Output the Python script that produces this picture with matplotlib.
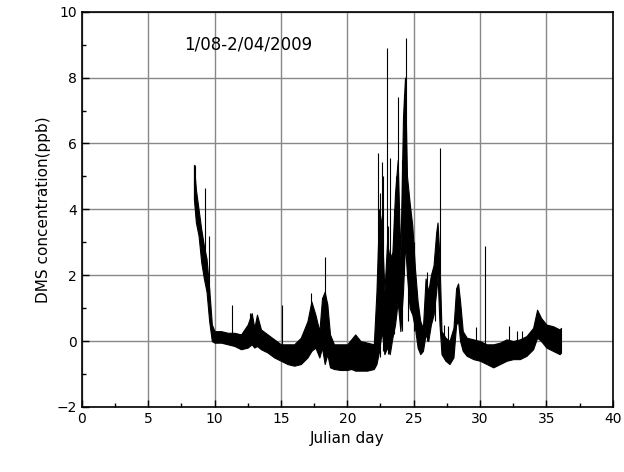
import matplotlib
matplotlib.use("Agg")
import matplotlib.pyplot as plt
from matplotlib.ticker import MultipleLocator

# envelope of the noisy DMS record (day, lower, upper)
days = [8.45, 8.6, 8.8, 9.0, 9.2, 9.4, 9.6, 9.8, 10.0, 10.5, 11.0, 11.5, 12.0,
        12.5, 12.8, 13.0, 13.2, 13.5, 14.0, 14.5, 15.0, 15.5, 16.0, 16.5, 17.0,
        17.3, 17.6, 17.9, 18.1, 18.3, 18.5, 18.7, 19.0, 19.5, 20.0, 20.3, 20.6,
        21.0, 21.5, 22.0, 22.2, 22.4, 22.6, 22.8, 23.0, 23.2, 23.4, 23.6, 23.8,
        24.0, 24.2, 24.35, 24.5, 24.7, 24.9, 25.1, 25.3, 25.5, 25.7, 25.9, 26.1,
        26.3, 26.5, 26.7, 26.8, 26.95, 27.1, 27.4, 27.7, 28.0, 28.2, 28.35, 28.5,
        28.7, 29.0, 29.5, 30.0, 30.5, 31.0, 31.5, 32.0, 32.5, 33.0, 33.5, 34.0,
        34.3, 34.6, 35.0, 35.5, 36.0, 36.1]
lower = [4.3, 3.6, 3.2, 2.4, 1.9, 1.5, 0.6, 0.0, -0.05, -0.05, -0.1, -0.15, -0.25,
         -0.2, -0.1, -0.2, -0.15, -0.25, -0.35, -0.5, -0.6, -0.7, -0.75, -0.7, -0.5,
         -0.3, -0.2, -0.5, -0.2, -0.7, -0.4, -0.8, -0.85, -0.88, -0.88, -0.85, -0.9,
         -0.9, -0.9, -0.85, -0.7, -0.3, 0.3, -0.4, -0.2, -0.4, 0.1, 0.5, 1.2,
         0.3, 1.5, 3.0, 2.0, 1.0, 0.8, 0.4, -0.2, -0.4, -0.3, 0.2, 0.0,
         0.5, 0.8, 1.5, 2.0, 0.5, -0.4, -0.6, -0.7, -0.5, 0.5, 0.6, 0.0,
         -0.3, -0.45, -0.55, -0.6, -0.7, -0.8, -0.7, -0.6, -0.55, -0.55, -0.45, -0.25,
         0.1, 0.0, -0.2, -0.3, -0.4, -0.35]
upper = [5.35, 4.6, 4.0, 3.4, 2.9, 2.5, 1.6, 0.5, 0.3, 0.3, 0.25, 0.25, 0.2,
         0.5, 0.85, 0.4, 0.8, 0.35, 0.2, 0.05, -0.1, -0.1, -0.1, 0.1, 0.6,
         1.2, 0.8, 0.3, 1.3, 1.5, 1.1, 0.2, -0.1, -0.1, -0.1, 0.05, 0.2,
         0.0, -0.05, -0.1, 1.5, 4.0, 3.5, 1.5, 3.0, 2.5, 2.7, 4.5, 5.5,
         2.5, 6.8, 8.0, 5.0, 4.2, 3.5, 2.2, 1.2, 0.6, 0.4, 1.9, 1.5,
         2.0, 2.3, 3.3, 3.6, 2.5, 0.3, 0.1, 0.0, 0.4, 1.6, 1.75, 1.2,
         0.3, 0.1, 0.05, 0.0, -0.1, -0.1, -0.05, 0.05, 0.0, 0.05, 0.15, 0.4,
         0.95, 0.7, 0.5, 0.45, 0.35, 0.4]

# narrow single spikes
spike_day = [8.5, 9.26, 9.56, 11.3, 12.7, 15.1, 17.3, 18.3, 18.45, 22.3, 22.45,
             22.6, 22.7, 23.0, 23.1, 23.2, 23.5, 23.65, 23.8, 24.1, 24.25, 24.4,
             24.6, 25.0, 26.0, 26.6, 26.95, 27.3, 27.6, 29.7, 30.35, 32.2, 32.8, 33.2]
spike_base = [4.5, 2.5, 1.5, 0.2, 0.3, -0.2, 0.5, 0.5, 0.3, 1.0, -0.5,
              1.0, -0.3, 1.0, -0.4, 0.5, 0.2, 0.8, 2.0, 0.3, 2.0, 4.0,
              0.6, 0.3, 0.0, 0.6, 2.0, -0.2, -0.2, -0.2, -0.2, -0.2, -0.2, -0.2]
spike_top = [5.35, 4.65, 3.2, 1.1, 0.85, 1.1, 1.45, 2.55, 1.2, 5.7, 4.5,
             5.45, 5.0, 8.9, 3.5, 5.55, 4.0, 5.0, 7.4, 5.5, 7.5, 9.2,
             4.5, 3.0, 2.1, 2.5, 5.85, 0.5, 0.45, 0.43, 2.9, 0.45, 0.3, 0.3]

fig = plt.figure(figsize=(6.24, 4.72), dpi=100)
ax = fig.add_axes([0.131, 0.138, 0.851, 0.837])

ax.fill_between(days, lower, upper, color="black", linewidth=0.8, edgecolor="black")
ax.vlines(spike_day, spike_base, spike_top, color="black", linewidth=0.8)

ax.set_xlim(0, 40)
ax.set_ylim(-2, 10)
ax.xaxis.set_major_locator(MultipleLocator(5))
ax.xaxis.set_minor_locator(MultipleLocator(2.5))
ax.yaxis.set_major_locator(MultipleLocator(2))
ax.yaxis.set_minor_locator(MultipleLocator(1))
ax.tick_params(which="both", direction="in", labelsize=10, width=1)
ax.tick_params(which="major", length=5)
ax.tick_params(which="minor", length=3)
ax.grid(True, which="major", color="#888888", linewidth=1)
ax.set_axisbelow(True)
for s in ax.spines.values():
    s.set_linewidth(1.2)

ax.set_xlabel("Julian day", fontsize=11)
ax.set_ylabel("DMS concentration(ppb)", fontsize=11)
ax.text(7.7, 9.0, "1/08-2/04/2009", fontsize=12, va="center", ha="left")

fig.savefig("out.png", dpi=100)
